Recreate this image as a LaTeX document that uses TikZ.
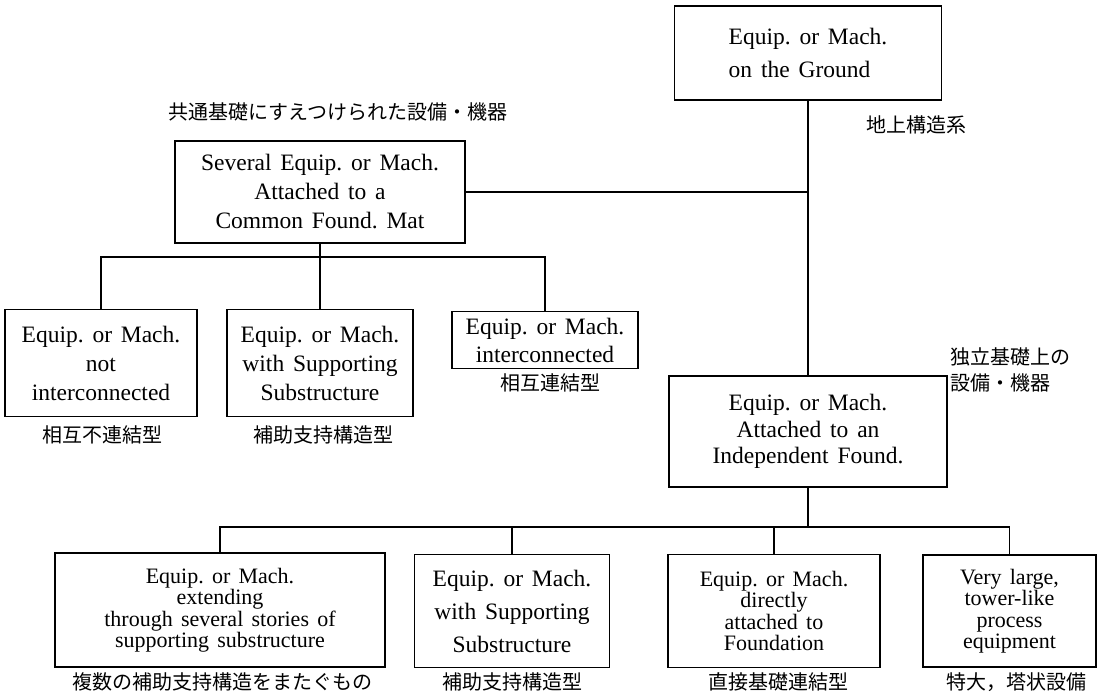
\documentclass[tikz,border=0pt]{standalone}
\usepackage{fontspec}
\setmainfont{Liberation Serif}[WordSpace=1.5]
\newfontfamily\jp{Noto Sans CJK JP}
\begin{document}
\begin{tikzpicture}[x=1pt,y=-1pt,
  box/.style={draw,line width=1.1pt,inner sep=0pt,align=center},
  big/.style={font=\fontsize{23.5}{33}\selectfont},
  mid/.style={font=\fontsize{23.5}{29}\selectfont},
  tight/.style={font=\fontsize{22}{21.5}\selectfont},
  jlab/.style={inner sep=0pt,font=\jp\fontsize{20}{26}\selectfont,align=left},
  conn/.style={line width=1.1pt}]
\useasboundingbox (0,0) rectangle (1099,694);
% main boxes
\node[box,big,align=left,minimum width=267pt,minimum height=94pt] (G) at (808,53) {Equip.\ or Mach.\\on the Ground};
\node[box,mid,minimum width=290pt,minimum height=102pt] (S) at (320,192) {Several Equip.\ or Mach.\\Attached to a\\Common Found.\ Mat};
\node[box,font=\fontsize{23.5}{26.5}\selectfont,minimum width=278pt,minimum height=111pt] (I) at (808,431.5) {Equip.\ or Mach.\\Attached to an\\Independent Found.};
% second level (common mat)
\node[box,mid,minimum width=192pt,minimum height=107pt] (A1) at (101,363) {Equip.\ or Mach.\\not\\interconnected};
\node[box,mid,minimum width=186pt,minimum height=107pt] (A2) at (320,363) {Equip.\ or Mach.\\with Supporting\\Substructure};
\node[box,font=\fontsize{23.5}{28}\selectfont,minimum width=186pt,minimum height=57pt] (A3) at (545,340) {Equip.\ or Mach.\\interconnected};
% bottom level
\node[box,tight,minimum width=330pt,minimum height=114pt] (B1) at (220,610) {Equip.\ or Mach.\\extending\\through several stories of\\supporting substructure};
\node[box,big,minimum width=195pt,minimum height=113pt] (B2) at (512,611) {Equip.\ or Mach.\\with Supporting\\Substructure};
\node[box,tight,minimum width=212pt,minimum height=113pt] (B3) at (774,611) {Equip.\ or Mach.\\directly\\attached to\\Foundation};
\node[box,tight,minimum width=173pt,minimum height=112pt] (B4) at (1009.5,611) {Very large,\\tower-like\\process\\equipment};
% labels
\node[jlab,anchor=west] (lS) at (168,112) {共通基礎にすえつけられた設備・機器};
\node[jlab,anchor=west] (lG) at (866,125) {地上構造系};
\node[jlab,anchor=west] (lI) at (950,370) {独立基礎上の\\設備・機器};
\node[jlab] (lA1) at (102,435) {相互不連結型};
\node[jlab] (lA2) at (323,435) {補助支持構造型};
\node[jlab] (lA3) at (550,383) {相互連結型};
\node[jlab] (lB1) at (222,682) {複数の補助支持構造をまたぐもの};
\node[jlab] (lB2) at (512,682) {補助支持構造型};
\node[jlab] (lB3) at (778,682) {直接基礎連結型};
\node[jlab] (lB4) at (1016,682) {特大，塔状設備};
% connectors
\coordinate (sb) at (320,257);
\coordinate (ib) at (808,527);
\draw[conn] (G.south) -- (I.north);
\draw[conn] (S.east) -- (S.east -| G.south);
\draw[conn] (S.south) -- (A2.north);
\draw[conn] (A1.north) |- (A3.north |- sb) -- (A3.north);
\draw[conn] (I.south) -- (ib);
\draw[conn] (B1.north) |- (B4.north |- ib) -- (B4.north);
\draw[conn] (B2.north) -- (B2.north |- ib);
\draw[conn] (B3.north) -- (B3.north |- ib);
\end{tikzpicture}
\end{document}
